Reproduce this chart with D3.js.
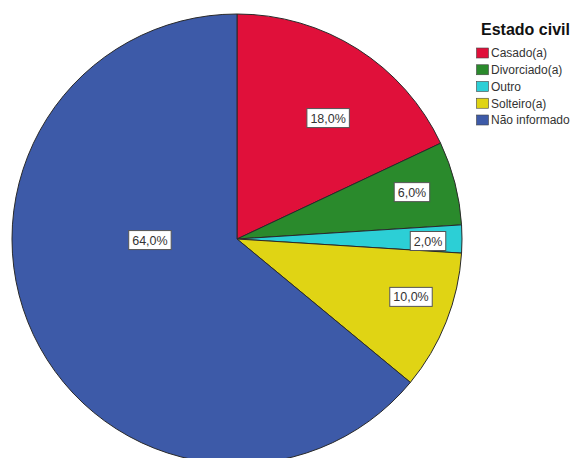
<!DOCTYPE html>
<html>
<head>
<meta charset="utf-8">
<script src="https://cdn.jsdelivr.net/npm/d3@7"></script>
<style>
  html, body { margin: 0; padding: 0; background: #fff; }
  svg { display: block; }
</style>
</head>
<body>
<svg id="chart" width="574" height="458"></svg>
<script>
// Marital status distribution (percent of respondents)
const categories = ["Casado(a)", "Divorciado(a)", "Outro", "Solteiro(a)", "Não informado"];
const percents = [18.0, 6.0, 2.0, 10.0, 64.0];
const colors = ["#e0103a", "#2a8a2c", "#2ccfd6", "#e0d414", "#3d5aa8"];
const legendTitle = "Estado civil";

// Where each value label sits: polar angle (degrees, clockwise from 12 o'clock)
// and distance as a fraction of the pie radius.
const labelPlacement = [
  [37, 0.673],
  [75, 0.805],
  [90.6, 0.849],
  [108.4, 0.815],
  [269.3, 0.387]
];

const width = 574, height = 458;
const cx = 237, cy = 239, radius = 225;

const svg = d3.select("#chart");
svg.append("rect").attr("width", width).attr("height", height).attr("fill", "#fff");

const data = categories.map((c, i) => ({ name: c, value: percents[i], color: colors[i], idx: i }));

const pie = d3.pie().value(d => d.value).sort(null);
const arc = d3.arc().innerRadius(0).outerRadius(radius);

const g = svg.append("g").attr("transform", `translate(${cx},${cy})`);

g.selectAll("path.slice")
  .data(pie(data))
  .join("path")
  .attr("class", "slice")
  .attr("d", arc)
  .attr("fill", d => d.data.color)
  .attr("stroke", "#2a2a2a")
  .attr("stroke-width", 1)
  .attr("stroke-linejoin", "round");

// Value labels in white boxes
const fmt = v => v.toFixed(1).replace(".", ",") + "%";
const labels = g.selectAll("g.lbl")
  .data(pie(data))
  .join("g")
  .attr("class", "lbl")
  .attr("transform", d => {
    const [deg, f] = labelPlacement[d.data.idx];
    const a = deg * Math.PI / 180;
    return `translate(${Math.sin(a) * radius * f},${-Math.cos(a) * radius * f})`;
  });

labels.each(function(d) {
  const sel = d3.select(this);
  const t = sel.append("text")
    .attr("text-anchor", "middle")
    .attr("dy", "0.36em")
    .attr("font-family", "Liberation Sans, Arial, sans-serif")
    .attr("font-size", 12.5)
    .attr("fill", "#333")
    .text(fmt(d.data.value));
  const bb = t.node().getBBox();
  sel.insert("rect", "text")
    .attr("x", bb.x - 3.5)
    .attr("y", -9.5)
    .attr("width", bb.width + 7)
    .attr("height", 19)
    .attr("fill", "#fff")
    .attr("stroke", "#555")
    .attr("stroke-width", 1);
});

// Legend
const legend = svg.append("g").attr("transform", "translate(476,0)");
legend.append("text")
  .attr("x", 5)
  .attr("y", 35)
  .attr("font-family", "Liberation Sans, Arial, sans-serif")
  .attr("font-weight", "bold")
  .attr("font-size", 16)
  .attr("fill", "#111")
  .text(legendTitle);

const rowY = d3.scalePoint().domain(categories).range([53, 120]);

const rows = legend.selectAll("g.row")
  .data(data)
  .join("g")
  .attr("class", "row")
  .attr("transform", d => `translate(0,${rowY(d.name)})`);

rows.append("rect")
  .attr("x", 0.5)
  .attr("y", -5)
  .attr("width", 12)
  .attr("height", 10)
  .attr("fill", d => d.color)
  .attr("stroke", "#444")
  .attr("stroke-width", 0.6);

rows.append("text")
  .attr("x", 15)
  .attr("y", 0)
  .attr("dy", "0.36em")
  .attr("font-family", "Liberation Sans, Arial, sans-serif")
  .attr("font-size", 12)
  .attr("fill", "#333")
  .text(d => d.name);
</script>
</body>
</html>
